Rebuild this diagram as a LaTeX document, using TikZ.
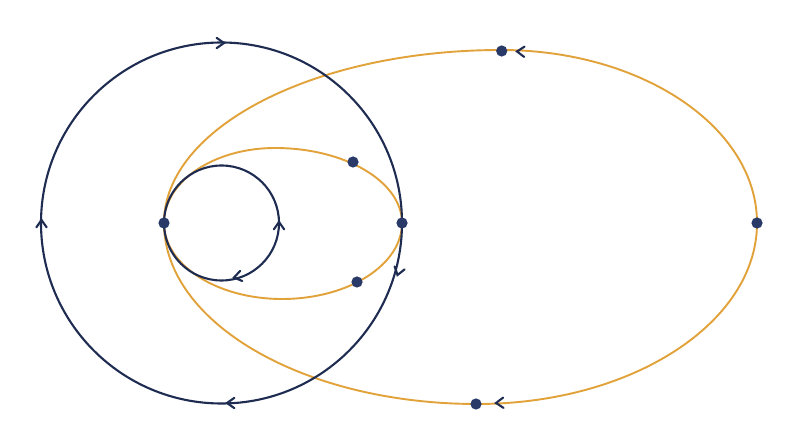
\documentclass[tikz,border=0pt]{standalone}
\definecolor{navy}{HTML}{1F2C52}
\definecolor{dotc}{HTML}{293A69}
\definecolor{gold}{HTML}{E2A23A}
\tikzset{
  orbitnavy/.style={draw=navy,line width=2.1pt},
  orbitgold/.style={draw=gold,line width=1.9pt},
  chevron/.style={draw=navy,line width=2.1pt,line cap=round,line join=miter},
  dotmark/.style={fill=dotc}
}
\newcommand{\chevat}[3]{\draw[chevron] ($(#1,#2)+(#3+145:9)$) -- (#1,#2) -- ($(#1,#2)+(#3-145:9)$);}
\usetikzlibrary{calc}
\begin{document}
\begin{tikzpicture}[x=1pt,y=1pt]
\useasboundingbox[fill=white] (0,0) rectangle (800,447);
% named points
\coordinate (L) at (164,224);
\coordinate (Rs) at (402,224);
\coordinate (Rb) at (757,224);
\coordinate (Tb) at (501.7,396);
\coordinate (Bb) at (476,43);
\coordinate (Ts) at (353,285);
\coordinate (Bs) at (357,165);
\coordinate (C) at (221.5,224);
% big orange orbit
\draw[orbitgold] (164,224) .. controls (164,319.5) and (314.9,397) .. (501,397)
  .. controls (642.4,397) and (757,319.5) .. (757,224)
  .. controls (757,124) and (631.6,43) .. (477,43)
  .. controls (304.1,43) and (164,124) .. cycle;
% small orange orbit
\draw[orbitgold] (164,224) .. controls (164,265.4) and (213.7,299) .. (275,299)
  .. controls (345.1,299) and (402,265.4) .. (402,224)
  .. controls (402,182) and (348.3,148) .. (282,148)
  .. controls (216.8,148) and (164,182) .. cycle;
% navy circles
\draw[orbitnavy] (C) circle[radius=180.5];
\draw[orbitnavy] (C) circle[radius=57.5];
% chevrons
\chevat{224}{404}{0}
\chevat{41.5}{227}{90}
\chevat{227}{44}{180}
\chevat{397.5}{172}{-106.5}
\chevat{279}{225}{90}
\chevat{234}{169.5}{-168}
\chevat{517}{395.5}{178}
\chevat{496}{44}{-178}
% dots
\foreach \p in {L,Rs,Rb,Tb,Bb,Ts,Bs} \fill[dotmark] (\p) circle[radius=5.6];
\end{tikzpicture}
\end{document}
